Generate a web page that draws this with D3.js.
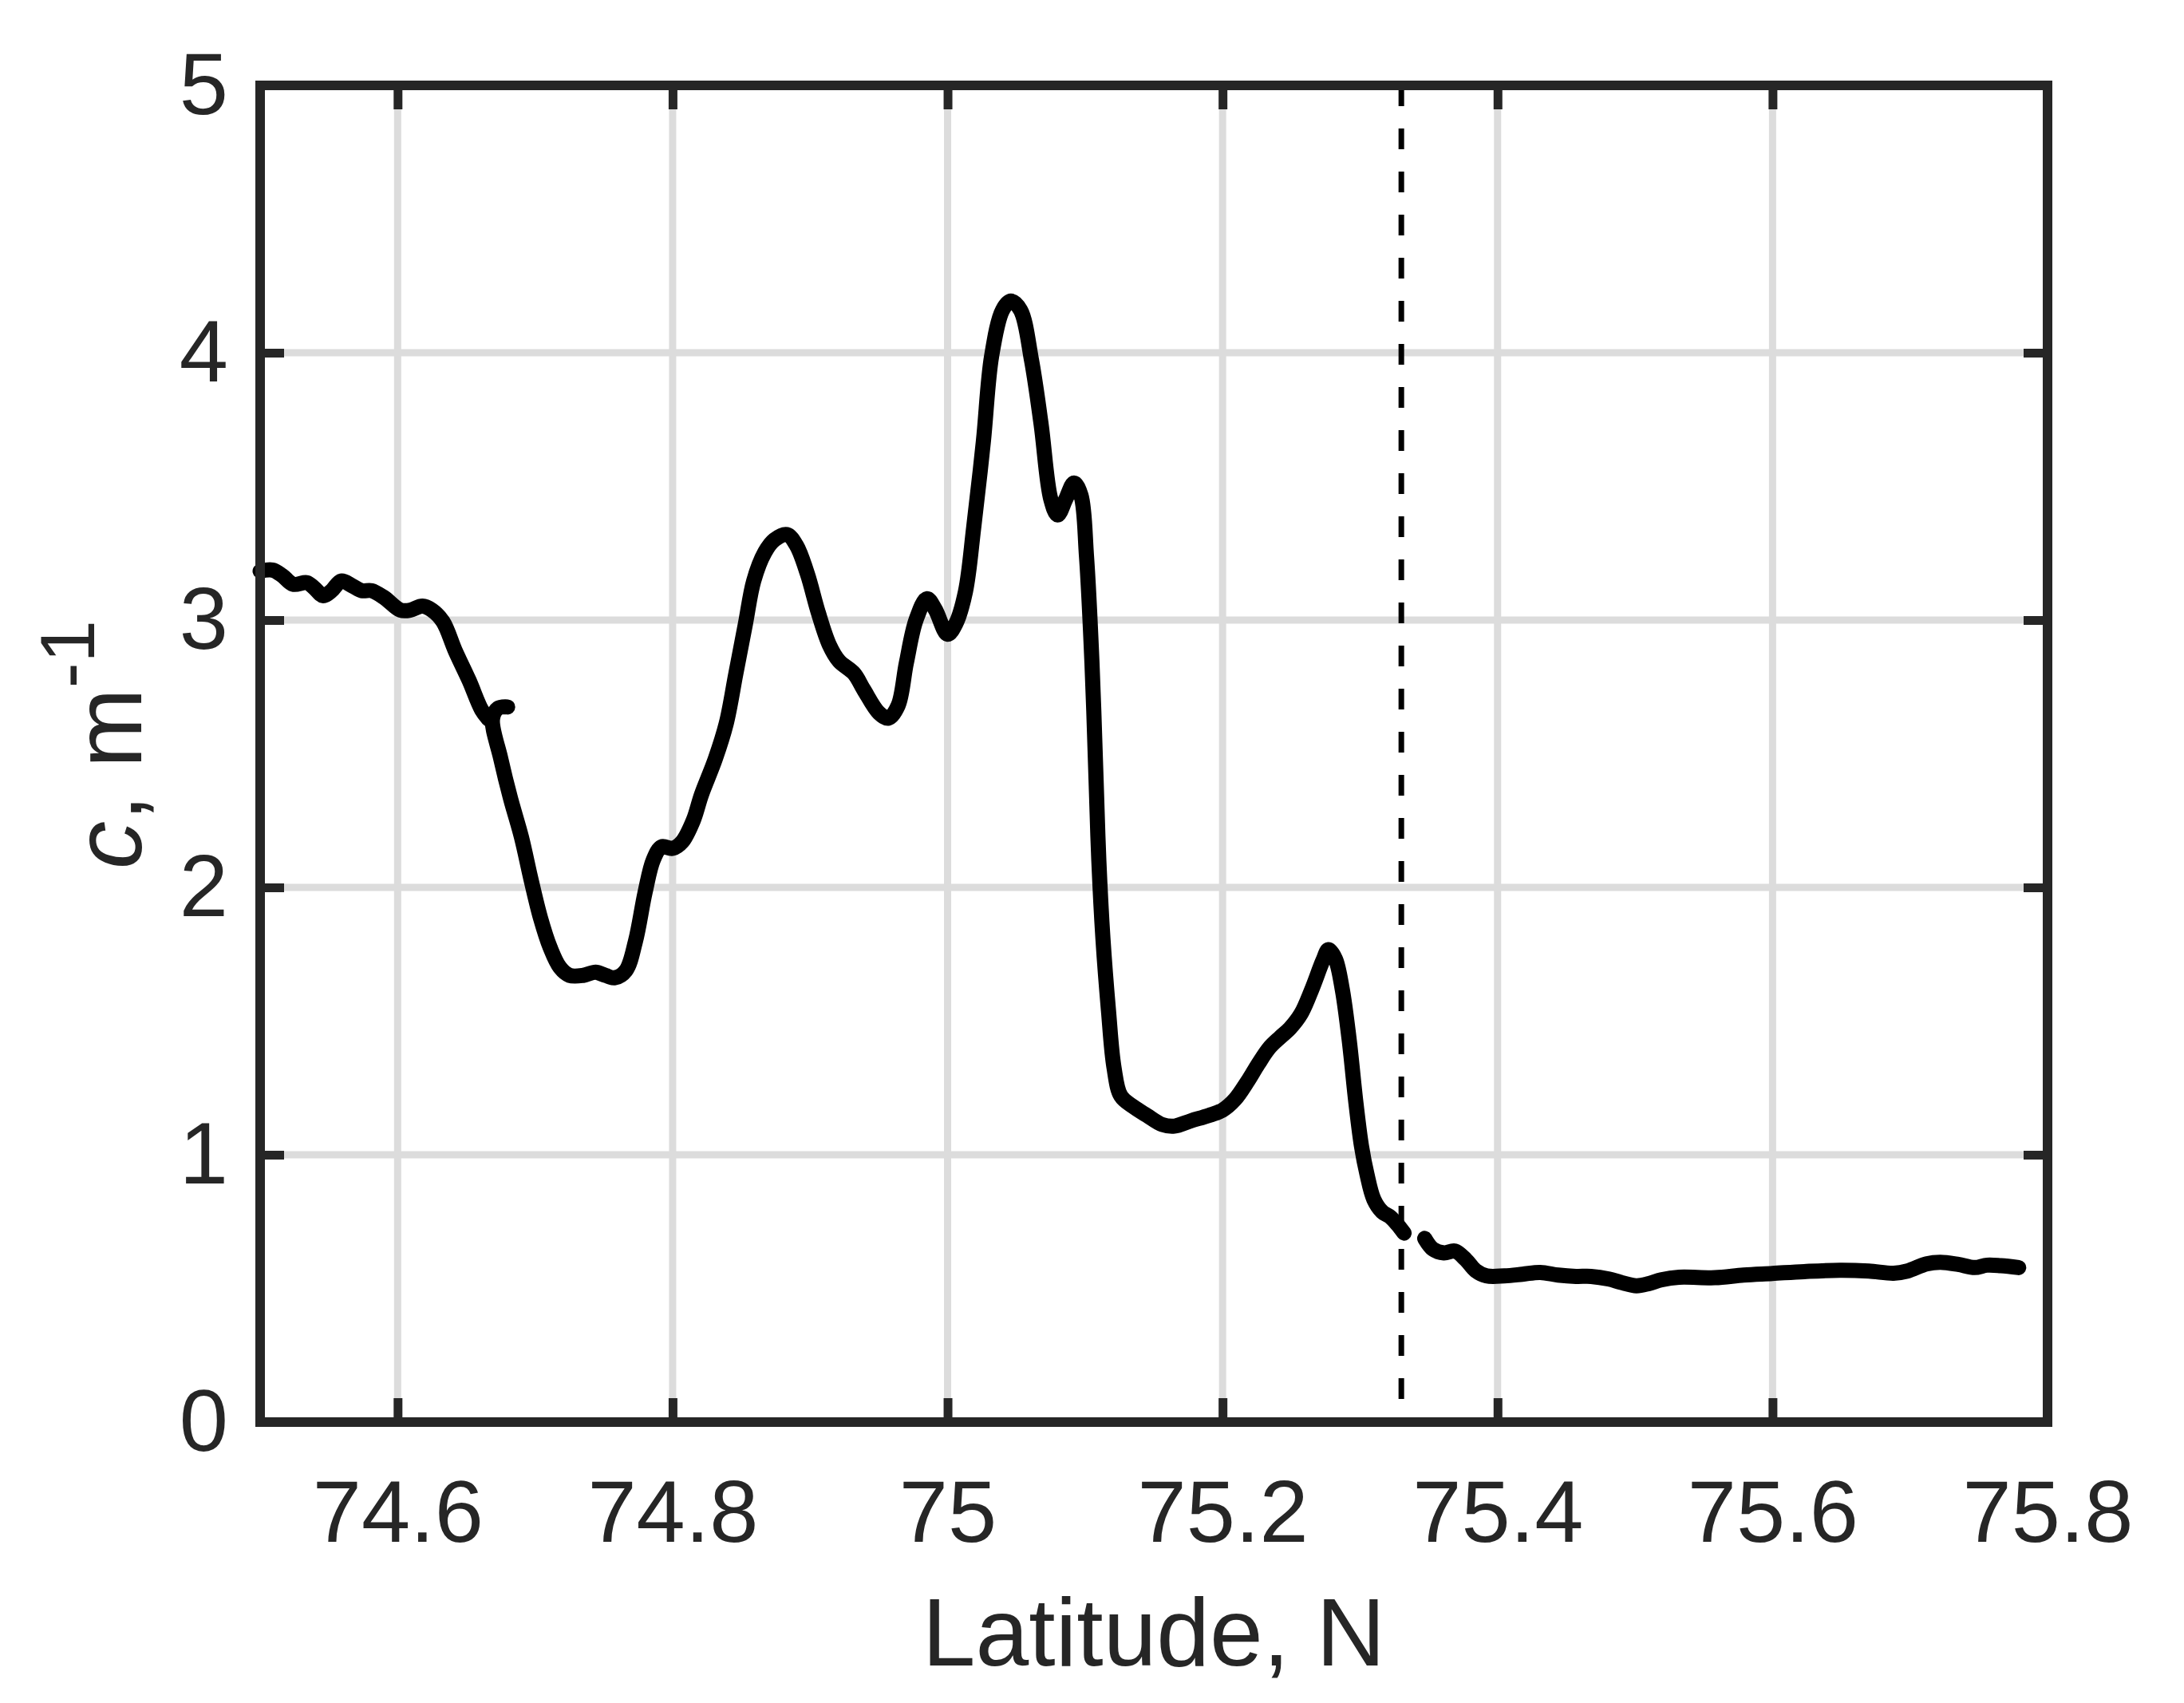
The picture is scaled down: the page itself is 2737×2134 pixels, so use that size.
<!DOCTYPE html>
<meta charset="utf-8">
<head>
<title>c along latitude</title>
<script src="https://cdn.jsdelivr.net/npm/d3@7"></script>
<style>
  body { margin: 0; background: #fff; }
  text { font-family: "Liberation Sans", Arial, sans-serif; fill: #262626; }
  .grid line { stroke: #dcdcdc; stroke-width: 9; }
  .axis line { stroke: #262626; stroke-width: 11; }
  .axis text { font-size: 110px; }
</style>
</head>
<body>
<div id="chart"></div>
<script>
// axis ticks
var xTicks = [74.6, 74.8, 75.0, 75.2, 75.4, 75.6, 75.8];
var yTicks = [0, 1, 2, 3, 4, 5];
var frontLat = 75.33;

// beam attenuation c (m^-1) vs latitude, three recorded pieces
var seg1 = [[74.500,3.183],[74.509,3.187],[74.516,3.167],[74.524,3.134],[74.534,3.140],[74.539,3.122],
  [74.546,3.091],[74.552,3.110],[74.559,3.146],[74.567,3.128],[74.574,3.110],[74.581,3.110],[74.590,3.085],
  [74.602,3.037],[74.609,3.037],[74.618,3.052],[74.625,3.037],[74.633,2.994],[74.642,2.884],[74.652,2.774],
  [74.661,2.665],[74.666,2.630]];
var seg2 = [[74.680,2.675],[74.673,2.670],[74.669,2.630],[74.675,2.482],[74.682,2.335],[74.690,2.189],
  [74.697,2.030],[74.704,1.884],[74.711,1.774],[74.718,1.701],[74.725,1.671],[74.735,1.671],[74.744,1.683],
  [74.751,1.671],[74.758,1.662],[74.766,1.689],[74.773,1.799],[74.780,1.982],[74.786,2.104],[74.792,2.152],
  [74.800,2.146],[74.807,2.171],[74.815,2.250],[74.821,2.347],[74.831,2.480],[74.839,2.613],[74.846,2.800],
  [74.853,2.987],[74.859,3.147],[74.867,3.253],[74.874,3.300],[74.883,3.320],[74.890,3.280],[74.898,3.173],
  [74.906,3.027],[74.914,2.907],[74.921,2.847],[74.932,2.800],[74.939,2.740],[74.950,2.653],[74.957,2.633],
  [74.964,2.680],[74.970,2.840],[74.977,3.000],[74.985,3.080],[74.991,3.040],[75.000,2.947],[75.006,2.987],
  [75.013,3.107],[75.019,3.347],[75.026,3.667],[75.032,3.987],[75.040,4.160],[75.046,4.193],[75.053,4.160],
  [75.061,3.973],[75.068,3.733],[75.075,3.453],[75.080,3.393],[75.086,3.453],[75.092,3.513],[75.097,3.467],
  [75.101,3.240],[75.105,2.840],[75.108,2.400],[75.110,2.100],[75.113,1.807],[75.117,1.540],[75.121,1.327],
  [75.126,1.220],[75.135,1.180],[75.145,1.147],[75.156,1.113],[75.165,1.107],[75.177,1.127],[75.190,1.147],
  [75.200,1.167],[75.209,1.207],[75.218,1.273],[75.226,1.340],[75.234,1.400],[75.242,1.440],[75.249,1.473],
  [75.257,1.527],[75.265,1.620],[75.273,1.727],[75.277,1.767],[75.282,1.733],[75.287,1.620],[75.292,1.433],
  [75.297,1.193],[75.301,1.033],[75.305,0.927],[75.310,0.833],[75.316,0.787],[75.322,0.767],[75.327,0.740],
  [75.332,0.707]];
var seg3 = [[75.347,0.687],[75.353,0.647],[75.361,0.633],[75.369,0.640],[75.377,0.607],[75.384,0.567],
  [75.392,0.547],[75.405,0.547],[75.418,0.553],[75.431,0.560],[75.444,0.550],[75.457,0.545],[75.468,0.545],
  [75.481,0.535],[75.490,0.522],[75.501,0.510],[75.510,0.518],[75.519,0.532],[75.532,0.542],[75.558,0.540],
  [75.579,0.550],[75.600,0.556],[75.623,0.563],[75.649,0.568],[75.670,0.565],[75.688,0.557],[75.698,0.565],
  [75.712,0.592],[75.722,0.598],[75.735,0.590],[75.747,0.578],[75.756,0.587],[75.766,0.585],[75.779,0.578]];

var W = 2737, H = 2134;
var margin = {top: 107, right: 171, bottom: 352, left: 326},
    width = W - margin.left - margin.right,
    height = H - margin.top - margin.bottom;

var svg = d3.select("#chart").append("svg")
    .attr("width", W)
    .attr("height", H);
svg.append("rect").attr("width", W).attr("height", H).attr("fill", "#fff");

var g = svg.append("g")
    .attr("transform", "translate(" + margin.left + "," + margin.top + ")");

var x = d3.scaleLinear().domain([74.5, 75.8]).range([0, width]);
var y = d3.scaleLinear().domain([0, 5]).range([height, 0]);

// grid
var grid = g.append("g").attr("class", "grid");
grid.selectAll(".gx").data(xTicks).enter().append("line")
    .attr("x1", d => x(d)).attr("x2", d => x(d))
    .attr("y1", 0).attr("y2", height);
grid.selectAll(".gy").data(yTicks).enter().append("line")
    .attr("y1", d => y(d)).attr("y2", d => y(d))
    .attr("x1", 0).attr("x2", width);

// front marker
g.append("line")
    .attr("x1", x(frontLat)).attr("x2", x(frontLat))
    .attr("y1", 0).attr("y2", height)
    .attr("stroke", "#000")
    .attr("stroke-width", 7)
    .attr("stroke-dasharray", "26,28");

// data
var line = d3.line()
    .x(d => x(d[0]))
    .y(d => y(d[1]))
    .curve(d3.curveCatmullRom.alpha(0.5));

g.selectAll(".seg").data([seg1, seg2, seg3]).enter().append("path")
    .attr("d", line)
    .attr("fill", "none")
    .attr("stroke", "#000")
    .attr("stroke-width", 19)
    .attr("stroke-linejoin", "round")
    .attr("stroke-linecap", "round");

// axes, ticks inward on all sides
var tk = -30;
var xFmt = d => d3.format("")(+d.toFixed(1));
g.append("g").attr("class", "axis")
    .attr("transform", "translate(0," + height + ")")
    .call(d3.axisBottom(x).tickValues(xTicks).tickSize(tk).tickPadding(72).tickFormat(xFmt))
    .call(a => a.select(".domain").remove())
    .call(a => a.selectAll("text").attr("fill", "#262626"));
g.append("g").attr("class", "axis")
    .call(d3.axisTop(x).tickValues(xTicks).tickSize(tk).tickFormat(""))
    .call(a => a.select(".domain").remove());
g.append("g").attr("class", "axis")
    .call(d3.axisLeft(y).tickValues(yTicks).tickSize(tk).tickPadding(40).tickFormat(d3.format("d")))
    .call(a => a.select(".domain").remove())
    .call(a => a.selectAll("text").attr("fill", "#262626"));
g.append("g").attr("class", "axis")
    .attr("transform", "translate(" + width + ",0)")
    .call(d3.axisRight(y).tickValues(yTicks).tickSize(tk).tickFormat(""))
    .call(a => a.select(".domain").remove());

// box
g.append("rect")
    .attr("width", width).attr("height", height)
    .attr("fill", "none")
    .attr("stroke", "#262626")
    .attr("stroke-width", 12);

// labels
svg.append("text")
    .attr("x", margin.left + width / 2)
    .attr("y", 2087)
    .attr("text-anchor", "middle")
    .style("font-size", "120px")
    .text("Latitude, N");

var yl = svg.append("text")
    .attr("transform", "translate(177,933) rotate(-90)")
    .attr("text-anchor", "middle")
    .style("font-size", "120px");
yl.append("tspan").style("font-style", "italic").text("c");
yl.append("tspan").text(", m");
yl.append("tspan").attr("dy", -59).style("font-size", "96px").text("-1");
</script>
</body>
